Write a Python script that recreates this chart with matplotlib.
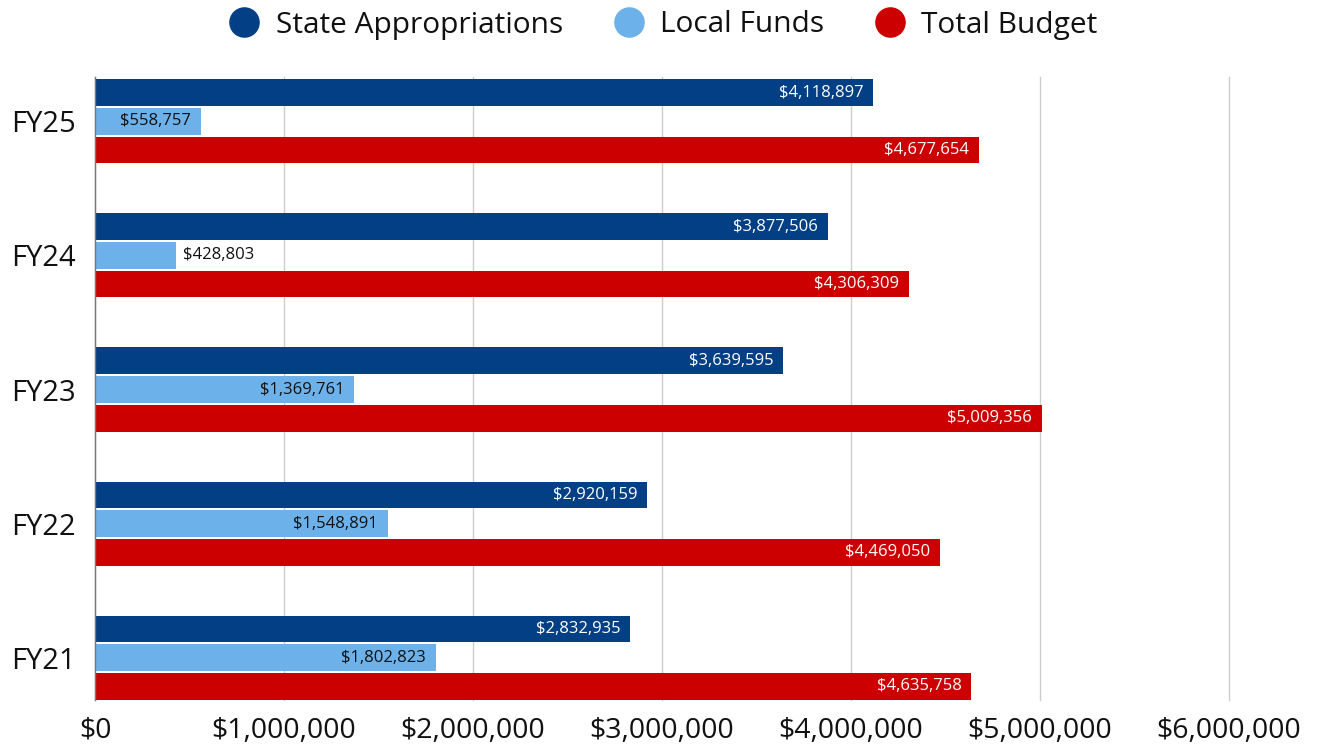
import matplotlib
matplotlib.use("Agg")
import matplotlib.pyplot as plt
from matplotlib.lines import Line2D
from matplotlib.ticker import FuncFormatter, MultipleLocator
import numpy as np

plt.rcParams['font.family'] = ['Open Sans', 'DejaVu Sans']

years = ["FY21", "FY22", "FY23", "FY24", "FY25"]
state = [2832935, 2920159, 3639595, 3877506, 4118897]
local = [1802823, 1548891, 1369761, 428803, 558757]
total = [4635758, 4469050, 5009356, 4306309, 4677654]
series_names = ["State Appropriations", "Local Funds", "Total Budget"]
colors = ["#023F85", "#6DB1EA", "#CC0000"]
label_colors = ["white", "#111111", "white"]

fig = plt.figure(figsize=(13.21, 7.47), dpi=100)
ax = fig.add_axes([95/1321, 1-700/747, (1229-95)/1321, (700-77)/747])

y = np.arange(len(years))
step = 0.214
h = 0.199
offsets = [step, 0, -step]
for vals, off, col, lc in zip([state, local, total], offsets, colors, label_colors):
    ax.barh(y + off, vals, height=h, color=col, zorder=2)
    for yi, v in zip(y, vals):
        txt = "${:,}".format(v)
        if v > 500000:
            ax.annotate(txt, (v, yi + off), xytext=(-7, 0), textcoords="offset points",
                        ha="right", va="center", color=lc, fontsize=12, zorder=4,
                        bbox=dict(boxstyle="round,pad=0.25,rounding_size=0.3", fc=col, ec="none"))
        else:
            ax.annotate(txt, (v, yi + off), xytext=(5, 0), textcoords="offset points",
                        ha="left", va="center", color="#111111", fontsize=12, zorder=4)

ax.set_xlim(0, 6000000)
ax.set_ylim(-0.315, 4.33)
ax.xaxis.set_major_locator(MultipleLocator(1000000))
ax.xaxis.set_major_formatter(FuncFormatter(lambda v, p: "${:,.0f}".format(v)))
ax.set_yticks(y)
ax.set_yticklabels(years)
ax.tick_params(axis='both', length=0, colors="#111111")
ax.tick_params(axis='x', pad=12, labelsize=20.5)
ax.tick_params(axis='y', pad=14, labelsize=21)
ax.grid(axis='x', color="#CCCCCC", linewidth=1, zorder=0)
for gl in ax.get_xgridlines():
    gl.set_clip_on(False)
for s in ["top", "right", "bottom"]:
    ax.spines[s].set_visible(False)
ax.spines["left"].set_color("#777777")
ax.spines["left"].set_linewidth(1)

handles = [Line2D([], [], marker='o', linestyle='none', markersize=21,
                  markerfacecolor=c, markeredgecolor=c) for c in colors]
fig.legend(handles, series_names, loc="center", bbox_to_anchor=(656/1321, 1-25/747),
           ncol=3, frameon=False, fontsize=21.5, handletextpad=0.05, columnspacing=1.2,
           labelcolor="#111111")

fig.savefig("out.png", dpi=100)
